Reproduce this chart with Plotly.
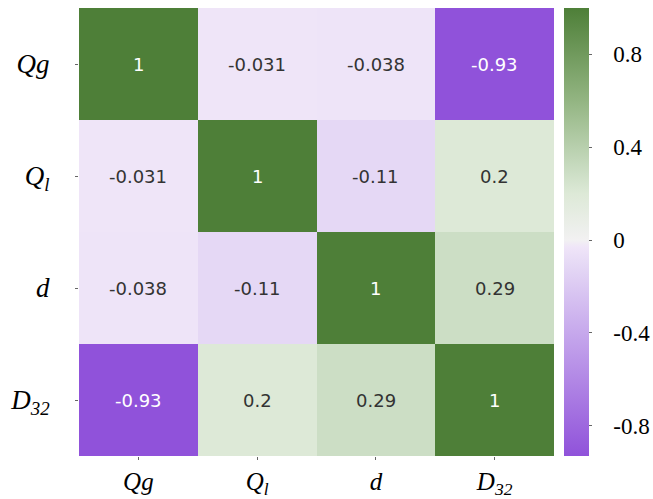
import plotly.graph_objects as go

labels = ["Qg", "Ql", "d", "D32"]
label_html = ["<i>Qg</i>", "<i>Q<sub>l</sub></i>", "<i>d</i>", "<i>D<sub>32</sub></i>"]
corr = [
    [1, -0.031, -0.038, -0.93],
    [-0.031, 1, -0.11, 0.2],
    [-0.038, -0.11, 1, 0.29],
    [-0.93, 0.2, 0.29, 1],
]
cell_text = [
    ["1", "-0.031", "-0.038", "-0.93"],
    ["-0.031", "1", "-0.11", "0.2"],
    ["-0.038", "-0.11", "1", "0.29"],
    ["-0.93", "0.2", "0.29", "1"],
]
cb_vals = [-0.8, -0.4, 0, 0.4, 0.8]
cb_text = ["-0.8", "-0.4", "0", "0.4", "0.8"]

zmin, zmax = -0.93, 1.0
SERIF = "Times New Roman, Liberation Serif, serif"


def pos(v):
    return (v - zmin) / (zmax - zmin)


colorscale = [
    [0.0, "#9052DA"],
    [pos(-0.4), "#C6A8EC"],
    [pos(-0.11), "#E5D8F5"],
    [pos(-0.031), "#EFE5F8"],
    [pos(0.0), "#F2F1F2"],
    [pos(0.2), "#DDE9D7"],
    [pos(0.29), "#CCDEC5"],
    [pos(0.6), "#93B582"],
    [1.0, "#4E7F38"],
]

fig = go.Figure(
    go.Heatmap(
        z=corr,
        x=labels,
        y=labels,
        zmin=zmin,
        zmax=zmax,
        colorscale=colorscale,
        showscale=True,
        hoverinfo="skip",
        colorbar=dict(
            x=1.021,
            xanchor="left",
            y=0.5,
            yanchor="middle",
            len=1.0,
            lenmode="fraction",
            thickness=25,
            xpad=0,
            ypad=0,
            outlinewidth=0,
            tickvals=cb_vals,
            ticktext=["\u00a0\u00a0\u00a0" + t for t in cb_text],
            ticks="outside",
            ticklen=3,
            tickcolor="#666",
            tickfont=dict(family=SERIF, size=23, color="black"),
        ),
    )
)

for i, row in enumerate(corr):
    for j, v in enumerate(row):
        fig.add_annotation(
            x=labels[j],
            y=labels[i],
            text=cell_text[i][j],
            showarrow=False,
            font=dict(
                family="DejaVu Sans",
                size=18,
                color="white" if abs(v) > 0.6 else "#333333",
            ),
        )

fig.update_layout(
    width=653,
    height=499,
    margin=dict(l=79, r=99, t=8, b=43, autoexpand=False),
    paper_bgcolor="white",
    plot_bgcolor="white",
    xaxis=dict(
        tickvals=labels,
        ticktext=label_html,
        ticks="outside",
        ticklen=3,
        tickcolor="#666",
        ticklabelstandoff=0,
        automargin=False,
        tickfont=dict(family=SERIF, size=25, color="black"),
        showgrid=False,
        zeroline=False,
    ),
    yaxis=dict(
        tickvals=labels,
        ticktext=label_html,
        autorange="reversed",
        ticks="outside",
        ticklen=3,
        tickcolor="#666",
        ticklabelstandoff=20,
        automargin=False,
        tickfont=dict(family=SERIF, size=27, color="black"),
        showgrid=False,
        zeroline=False,
    ),
)

fig.write_html(
    "out.html",
    config={"displayModeBar": False},
    post_script="document.body.style.margin='0';document.body.style.overflow='hidden';",
)
